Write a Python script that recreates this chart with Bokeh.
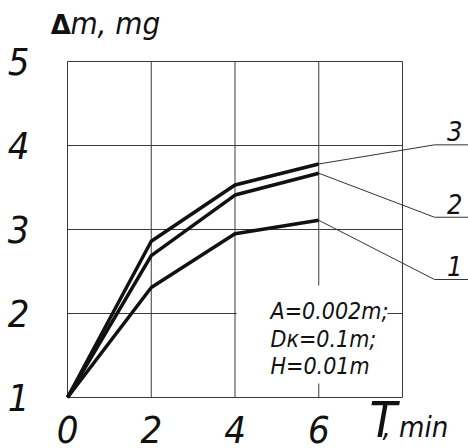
from bokeh.plotting import figure
from bokeh.models import Label, FixedTicker
from bokeh.embed import file_html
from bokeh.resources import INLINE

# ---- data ----
t_min = [0, 2, 4, 6]
dm_1 = [1.0, 2.31, 2.95, 3.11]
dm_2 = [1.0, 2.69, 3.41, 3.67]
dm_3 = [1.0, 2.86, 3.53, 3.78]
series_labels = ["1", "2", "3"]
x_ticks = [0, 2, 4, 6, 8]
y_ticks = [1, 2, 3, 4, 5]
note_lines = ["A=0.002m;", "Dк=0.1m;", "H=0.01m"]

FONT = "DejaVu Sans Condensed"
INK = "#111111"
GRID = "#3a3a3a"

p = figure(
    x_range=(-0.406, 9.576), y_range=(0.393, 5.631),
    frame_width=418, frame_height=440,
    min_border_left=50, min_border_top=8, min_border_right=0, min_border_bottom=0,
    output_backend="svg", toolbar_location=None,
    background_fill_color="white", border_fill_color="white",
)
p.outline_line_color = None
p.xgrid.visible = False
p.ygrid.visible = False

for ax in (p.xaxis, p.yaxis):
    ax.axis_line_color = None
    ax.major_tick_line_color = None
    ax.minor_tick_line_color = None
    ax.major_label_text_font = FONT
    ax.major_label_text_font_style = "italic"
    ax.major_label_text_font_size = "38px"
    ax.major_label_text_color = INK

p.xaxis.ticker = FixedTicker(ticks=x_ticks)
p.yaxis.ticker = FixedTicker(ticks=y_ticks)
p.xaxis.major_label_overrides = {8: ""}
p.xaxis.fixed_location = y_ticks[0]
p.xaxis.major_label_standoff = 12
p.yaxis.major_label_standoff = 15

# grid / plot box drawn from the tick arrays
n_x, n_y = len(x_ticks), len(y_ticks)
p.segment(x0=x_ticks, y0=[y_ticks[0]] * n_x, x1=x_ticks, y1=[y_ticks[-1]] * n_x,
          line_color=GRID, line_width=1)
p.segment(x0=[x_ticks[0]] * n_y, y0=y_ticks, x1=[x_ticks[-1]] * n_y, y1=y_ticks,
          line_color=GRID, line_width=1)

# white box behind the parameter note (interrupts grid lines)
p.quad(left=[4.04], right=[7.64], bottom=[1.167], top=[2.333],
       fill_color="white", line_color=None)

series = [dm_1, dm_2, dm_3]
for ys in series:
    p.line(t_min, ys, line_width=3.5, line_color=INK)

# leader lines from each curve's last point to its number
knee_x = 8.764
edge_x = 9.576
knee_y = [2.405, 3.146, 4.008]
for ys, lab, ky in zip(series, series_labels, knee_y):
    p.line([t_min[-1], knee_x, edge_x], [ys[-1], ky, ky], line_color="#333333", line_width=1)
    p.add_layout(Label(x=9.25, y=ky + 0.16, text=lab, text_font=FONT,
                       text_font_style="italic", text_font_size="27px",
                       text_color=INK, text_align="center", text_baseline="alphabetic"))

note_y = [2.025, 1.691, 1.37]
for txt, yy in zip(note_lines, note_y):
    p.add_layout(Label(x=4.848, y=yy, text=txt, text_font=FONT,
                       text_font_style="italic", text_font_size="23px",
                       text_color=INK, text_baseline="alphabetic"))

# axis titles
p.add_layout(Label(x=-0.4, y=5.43, text="Δ", text_font="DejaVu Sans",
                   text_font_style="bold", text_font_size="26px", text_color=INK,
                   text_baseline="alphabetic"))
p.add_layout(Label(x=0.07, y=5.46, text="m, mg", text_font=FONT,
                   text_font_style="italic", text_font_size="31px", text_color=INK,
                   text_baseline="alphabetic"))
p.add_layout(Label(x=7.21, y=0.73, text="T", text_font=FONT,
                   text_font_style="italic", text_font_size="50px", text_color=INK,
                   text_baseline="alphabetic"))
p.add_layout(Label(x=7.52, y=0.643, text=", min", text_font=FONT,
                   text_font_style="italic", text_font_size="29px", text_color=INK,
                   text_baseline="alphabetic"))

open("out.html", "w").write(file_html(p, INLINE))
